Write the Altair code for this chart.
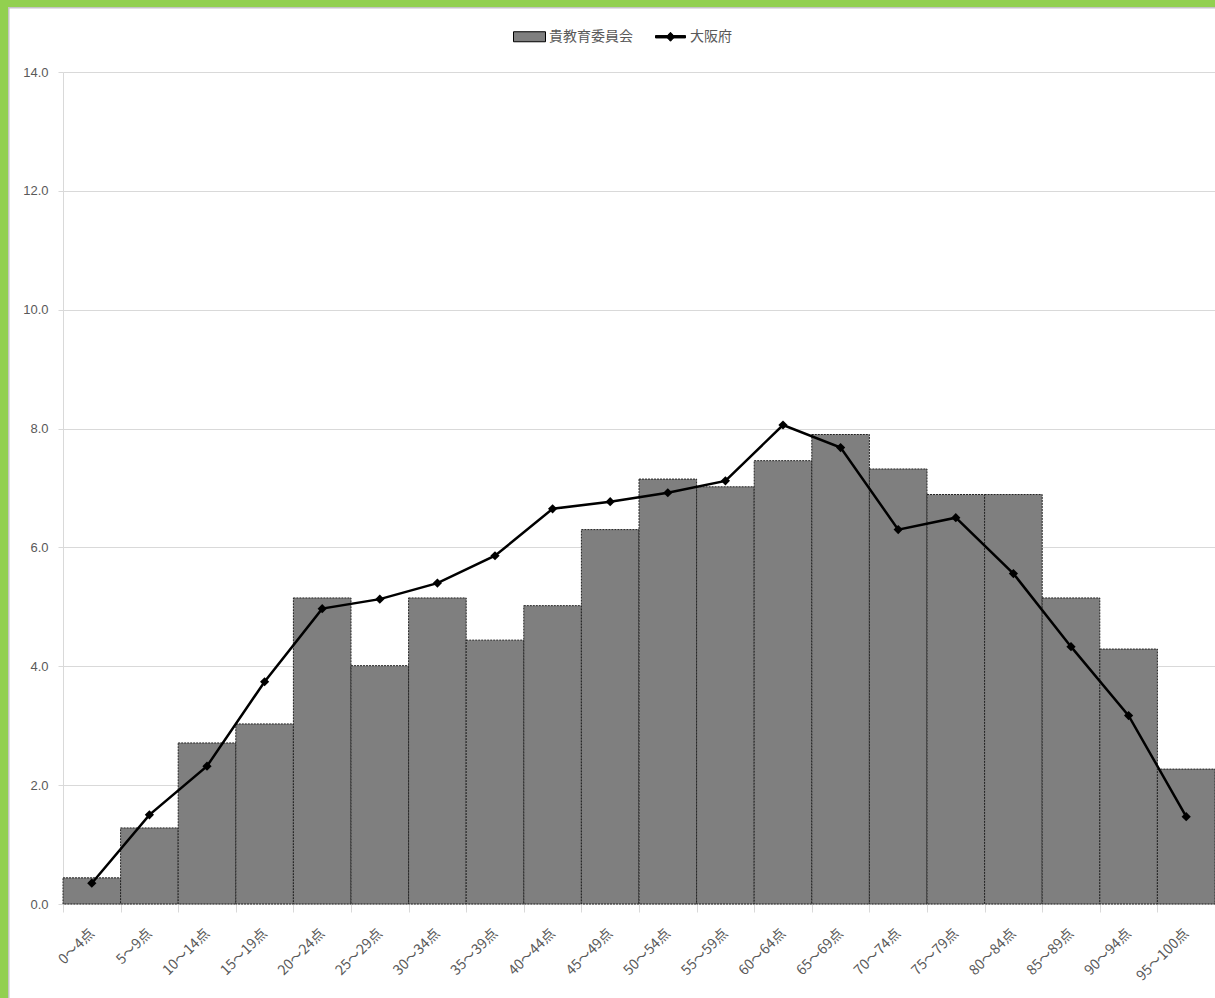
import altair as alt
import pandas as pd

# Score bands (x categories)
score_bands = ["0～4点", "5～9点", "10～14点", "15～19点", "20～24点",
               "25～29点", "30～34点", "35～39点", "40～44点", "45～49点",
               "50～54点", "55～59点", "60～64点", "65～69点", "70～74点",
               "75～79点", "80～84点", "85～89点", "90～94点", "95～100点"]

# Share of students per band (%)
board_pct = [0.44, 1.28, 2.71, 3.03, 5.15, 4.01, 5.15, 4.44, 5.02, 6.30,
             7.15, 7.02, 7.46, 7.90, 7.32, 6.89, 6.89, 5.15, 4.29, 2.27]
osaka_pct = [0.35, 1.50, 2.32, 3.74, 4.97, 5.13, 5.40, 5.86, 6.65, 6.77,
             6.92, 7.12, 8.06, 7.68, 6.30, 6.50, 5.56, 4.33, 3.17, 1.47]

series_names = ["貴教育委員会", "大阪府"]
y_ticks = [0, 2, 4, 6, 8, 10, 12, 14]

# Layout (plot area and padding around it)
W, H = 1152, 832
PAD_L, PAD_T, PAD_R, PAD_B = 63, 72, 0, 94

BAR_FILL = "#7f7f7f"
GRID = "#d9d9d9"
TEXT = "#595959"
FRAME_GREEN = "#92D050"
JP_FONT = "Noto Sans CJK JP"

# Legend swatches: wide box for bars, line with a diamond for the line series
BAR_SWATCH = "M-1.6,-0.5H1.6V0.5H-1.6Z"
LINE_SWATCH = "M-1.5,-0.12H1.5V0.12H-1.5Z M0,-0.45L0.42,0L0,0.45L-0.42,0Z"

df = pd.DataFrame({"band": score_bands, "board": board_pct, "osaka": osaka_pct})
legend_df = pd.DataFrame({"series": series_names})

x_enc = alt.X(
    "band:N", sort=score_bands,
    scale=alt.Scale(paddingInner=0, paddingOuter=0),
    axis=alt.Axis(title=None, labelAngle=-45, labelAlign="right",
                  labelBaseline="middle", labelPadding=19,
                  tickBand="extent", ticks=True, tickSize=8, tickColor=GRID,
                  domainColor=GRID, labelFont=JP_FONT, labelFontSize=14,
                  labelColor=TEXT, grid=False),
)
y_scale = alt.Scale(domain=[0, 14], nice=False, zero=True)
y_axis = alt.Axis(title=None, values=y_ticks, format=".1f", grid=True,
                  gridColor=GRID, domainColor=GRID, tickColor=GRID,
                  tickSize=5, labelPadding=10, labelFont="Liberation Sans",
                  labelFontSize=13, labelColor=TEXT)

bars = alt.Chart(df).mark_bar(
    fill=BAR_FILL, stroke="#222222", strokeWidth=1, strokeDash=[2, 1]
).encode(
    x=x_enc,
    y=alt.Y("board:Q", scale=y_scale, axis=y_axis),
)

line = alt.Chart(df).mark_line(color="#000000", strokeWidth=2.5).encode(
    x=alt.X("band:N", sort=score_bands),
    y=alt.Y("osaka:Q"),
)

markers = alt.Chart(df).mark_point(
    shape="diamond", filled=True, color="#000000", size=85, opacity=1
).encode(
    x=alt.X("band:N", sort=score_bands),
    y=alt.Y("osaka:Q"),
)

legend_def = alt.Legend(
    title=None, orient="none", legendX=456, legendY=-46,
    direction="horizontal", symbolSize=400, symbolStrokeWidth=1,
    symbolOpacity=1, labelOffset=9, columnPadding=20, padding=0,
    labelFont=JP_FONT, labelFontSize=14, labelColor=TEXT,
)
legend_layer = alt.Chart(legend_df).mark_point(
    opacity=0, stroke="#000000", strokeWidth=1
).encode(
    fill=alt.Fill("series:N",
                  scale=alt.Scale(domain=series_names, range=[BAR_FILL, "#000000"]),
                  legend=legend_def),
    shape=alt.Shape("series:N",
                    scale=alt.Scale(domain=series_names, range=[BAR_SWATCH, LINE_SWATCH]),
                    legend=legend_def),
)

# Green frame along the top and left edges of the canvas
frame_df = pd.DataFrame({"k": [0]})
frame_top = alt.Chart(frame_df).mark_rect(color=FRAME_GREEN).encode(
    x=alt.value(-PAD_L), x2=alt.value(W + PAD_R),
    y=alt.value(-PAD_T), y2=alt.value(-PAD_T + 7),
)
frame_left = alt.Chart(frame_df).mark_rect(color=FRAME_GREEN).encode(
    x=alt.value(-PAD_L), x2=alt.value(-PAD_L + 8),
    y=alt.value(-PAD_T), y2=alt.value(H + PAD_B),
)
edge_top = alt.Chart(frame_df).mark_rule(color="#c4c4c4", strokeWidth=1.5).encode(
    x=alt.value(-PAD_L + 8), x2=alt.value(W + PAD_R),
    y=alt.value(-PAD_T + 7.75),
)
edge_left = alt.Chart(frame_df).mark_rule(color="#c4c4c4", strokeWidth=1.5).encode(
    x=alt.value(-PAD_L + 8.75),
    y=alt.value(-PAD_T + 7), y2=alt.value(H + PAD_B),
)

chart = alt.layer(
    bars, line, markers, legend_layer, frame_top, frame_left, edge_top, edge_left
).properties(
    width=W, height=H,
    autosize=alt.AutoSizeParams(type="none"),
    padding={"left": PAD_L, "top": PAD_T, "right": PAD_R, "bottom": PAD_B},
    background="#ffffff",
).configure_view(stroke=None)

chart.save("out.html", embed_options={"renderer": "svg", "actions": False})
